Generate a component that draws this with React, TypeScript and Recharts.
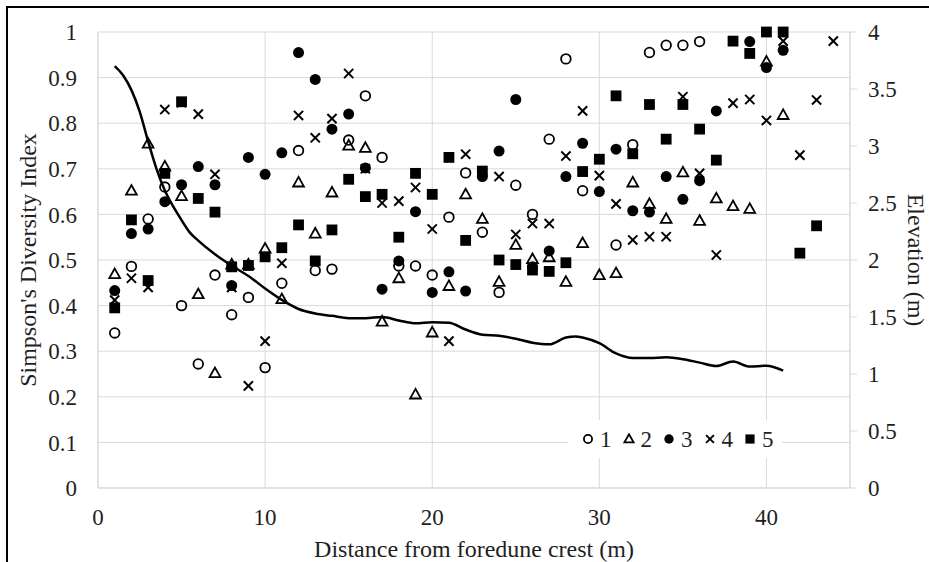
import React from 'react';
import { ComposedChart, Scatter, Line, XAxis, YAxis, CartesianGrid, Legend } from 'recharts';

// Distance from foredune crest (m)
const distances = [1, 2, 3, 4, 5, 6, 7, 8, 9, 10, 11, 12, 13, 14, 15, 16, 17, 18, 19, 20, 21, 22,
  23, 24, 25, 26, 27, 28, 29, 30, 31, 32, 33, 34, 35, 36, 37, 38, 39, 40, 41, 42, 43, 44];

// Simpson's Diversity Index for the five transects (null = no value)
const series1 = [0.34, 0.486, 0.59, 0.66, 0.40, 0.272, 0.467, 0.38, 0.418, 0.264, 0.449, 0.74,
  0.477, 0.48, 0.763, 0.86, 0.725, 0.487, 0.487, 0.467, 0.594, 0.691, 0.561, 0.429, 0.664, 0.60,
  0.765, 0.941, 0.652, null, 0.533, 0.753, 0.955, 0.971, 0.971, 0.979];
const series2 = [0.469, 0.652, 0.755, 0.705, 0.64, 0.425, 0.252, 0.49, 0.49, 0.525, 0.414, 0.67,
  0.558, 0.648, 0.751, 0.746, 0.365, 0.46, 0.205, 0.341, 0.443, 0.644, 0.59, 0.452, 0.533, 0.502,
  0.506, 0.452, 0.537, 0.467, 0.471, 0.67, 0.623, 0.59, 0.692, 0.586, 0.635, 0.618, 0.612, 0.935,
  0.818];
const series3 = [0.433, 0.558, 0.568, 0.628, 0.665, 0.705, 0.665, 0.444, 0.725, 0.688, 0.735,
  0.955, 0.896, 0.787, 0.82, 0.702, 0.436, 0.498, 0.606, 0.429, 0.474, 0.432, 0.683, 0.739, 0.852,
  0.485, 0.52, 0.683, 0.756, 0.65, 0.743, 0.608, 0.605, 0.683, 0.633, 0.674, 0.827, null, 0.979,
  0.922, 0.96];
const series4 = [0.412, 0.46, 0.44, 0.83, 0.845, 0.82, 0.688, 0.44, 0.224, 0.322, 0.493, 0.817,
  0.768, 0.81, 0.909, 0.70, 0.625, 0.629, 0.659, 0.568, 0.322, 0.732, 0.69, 0.683, 0.556, 0.58,
  0.58, 0.728, 0.827, 0.685, 0.623, 0.544, 0.551, 0.551, 0.858, 0.69, 0.511, 0.844, 0.852, 0.806,
  0.98, 0.73, 0.851, 0.98];
const series5 = [0.395, 0.588, 0.455, 0.69, 0.847, 0.635, 0.605, 0.485, 0.488, 0.507, 0.527,
  0.577, 0.498, 0.566, 0.677, 0.639, 0.644, 0.55, 0.69, 0.644, 0.725, 0.543, 0.695, 0.50, 0.49,
  0.478, 0.475, 0.494, 0.694, 0.721, 0.86, 0.733, 0.841, 0.765, 0.841, 0.787, 0.719, 0.98, 0.953,
  1.0, 1.0, 0.515, 0.575];

// Elevation profile (m)
const elevDistance = [1, 1.5, 2, 2.5, 3, 3.5, 4, 4.5, 5, 5.5, 6, 7, 8, 9, 10, 11, 12, 13, 14, 15,
  16, 17, 18, 19, 20, 21, 22, 23, 24, 25, 26, 27, 28, 28.6, 29, 30, 31, 32, 33, 34, 35, 36, 37, 38,
  39, 40, 41];
const elevation = [3.70, 3.62, 3.49, 3.30, 3.04, 2.80, 2.61, 2.47, 2.35, 2.24, 2.17, 2.05, 1.95,
  1.86, 1.75, 1.65, 1.57, 1.53, 1.51, 1.49, 1.49, 1.50, 1.47, 1.445, 1.455, 1.45, 1.39, 1.345,
  1.335, 1.31, 1.275, 1.26, 1.32, 1.33, 1.32, 1.27, 1.18, 1.14, 1.14, 1.146, 1.13, 1.10, 1.07,
  1.11, 1.065, 1.073, 1.03];

const xTicks = [0, 10, 20, 30, 40];
const leftTicks = [0, 0.1, 0.2, 0.3, 0.4, 0.5, 0.6, 0.7, 0.8, 0.9, 1];
const rightTicks = [0, 0.5, 1, 1.5, 2, 2.5, 3, 3.5, 4];
const seriesNames = ['1', '2', '3', '4', '5'];

const toPoints = (vals: (number | null)[]) =>
  vals
    .map((v, i) => ({ x: distances[i], y: v }))
    .filter((p) => p.y !== null);

const elevData = elevDistance.map((d, i) => ({ x: d, elev: elevation[i] }));

const INK = '#000';
const TEXT = '#1f1f1f';
const GRID = '#d9d9d9';
const SERIF = "'Liberation Serif', 'Times New Roman', serif";
const FS = 23;
const TITLE_FS = 24;

const OpenCircle = (p: any, s = 1) => (
  <circle cx={p.cx} cy={p.cy} r={4.8 * s} fill="none" stroke={INK} strokeWidth={1.8} />
);
const OpenTriangle = (p: any, s = 1) => (
  <polygon
    points={`${p.cx},${p.cy - 5.6 * s} ${p.cx - 5.4 * s},${p.cy + 4 * s} ${p.cx + 5.4 * s},${p.cy + 4 * s}`}
    fill="none"
    stroke={INK}
    strokeWidth={1.8}
  />
);
const FilledCircle = (p: any, s = 1) => <circle cx={p.cx} cy={p.cy} r={5.5 * s} fill={INK} />;
const Cross = (p: any, s = 1) => (
  <g stroke={INK} strokeWidth={2}>
    <line x1={p.cx - 4.6 * s} y1={p.cy - 4.6 * s} x2={p.cx + 4.6 * s} y2={p.cy + 4.6 * s} />
    <line x1={p.cx - 4.6 * s} y1={p.cy + 4.6 * s} x2={p.cx + 4.6 * s} y2={p.cy - 4.6 * s} />
  </g>
);
const FilledSquare = (p: any, s = 1) => (
  <rect x={p.cx - 5.4 * s} y={p.cy - 5.4 * s} width={10.8 * s} height={10.8 * s} fill={INK} />
);

const shapeByName: Record<string, (p: any, s?: number) => React.ReactElement> = {
  '1': OpenCircle,
  '2': OpenTriangle,
  '3': FilledCircle,
  '4': Cross,
  '5': FilledSquare,
};

const renderLegend = (props: any) => {
  const payload = (props.payload || []).filter((e: any) => shapeByName[String(e.value)]);
  return (
    <div
      style={{
        background: '#fff',
        display: 'flex',
        alignItems: 'center',
        height: 38,
        paddingLeft: 14,
        boxSizing: 'border-box',
        fontSize: FS,
        color: TEXT,
        fontFamily: SERIF,
      }}
    >
      {payload.map((entry: any) => (
        <span key={entry.value} style={{ display: 'flex', alignItems: 'center', marginRight: 11 }}>
          <svg width={12} height={12} style={{ marginRight: 6 }}>
            {shapeByName[String(entry.value)]({ cx: 6, cy: 6 }, 0.85)}
          </svg>
          <span style={{ lineHeight: '23px', fontFamily: SERIF }}>{entry.value}</span>
        </span>
      ))}
    </div>
  );
};

const tickStyle = { fontSize: FS, fill: TEXT, fontFamily: SERIF };
const labelStyle = { fontSize: TITLE_FS, fill: TEXT, fontFamily: SERIF };

export default function App() {
  const seriesData = [series1, series2, series3, series4, series5];
  return (
    <div
      style={{
        position: 'absolute',
        left: 0,
        top: 0,
        width: 929,
        height: 562,
        background: '#fff',
        overflow: 'hidden',
        fontFamily: SERIF,
      }}
    >
      <div
        style={{
          position: 'absolute',
          left: 6,
          top: 6,
          width: 1000,
          height: 700,
          borderTop: '2px solid #000',
          borderLeft: '2px solid #000',
        }}
      />
      <ComposedChart
        width={929}
        height={562}
        margin={{ top: 32, right: 9, bottom: 0, left: 10 }}
        style={{ fontFamily: SERIF }}
      >
        <CartesianGrid yAxisId="left" stroke={GRID} strokeWidth={1} />
        <XAxis
          type="number"
          dataKey="x"
          domain={[0, 45]}
          ticks={xTicks}
          allowDataOverflow
          height={74}
          axisLine={{ stroke: GRID }}
          tickLine={false}
          tickSize={0}
          tickMargin={21}
          tick={tickStyle}
          label={{
            value: 'Distance from foredune crest (m)',
            position: 'insideBottom',
            offset: 5,
            style: labelStyle,
          }}
        />
        <YAxis
          yAxisId="left"
          type="number"
          domain={[0, 1]}
          ticks={leftTicks}
          width={88}
          axisLine={{ stroke: GRID }}
          tickLine={false}
          tickSize={0}
          tickMargin={21}
          tick={tickStyle}
          label={{
            value: "Simpson's Diversity Index",
            angle: -90,
            position: 'insideLeft',
            offset: 17,
            style: { ...labelStyle, textAnchor: 'middle' },
          }}
        />
        <YAxis
          yAxisId="right"
          orientation="right"
          type="number"
          domain={[0, 4]}
          ticks={rightTicks}
          width={70}
          axisLine={{ stroke: GRID }}
          tickLine={{ stroke: GRID }}
          tickSize={7}
          tickMargin={11}
          tick={{ ...tickStyle, textAnchor: 'start' }}
          label={{
            value: 'Elevation (m)',
            angle: 90,
            position: 'insideRight',
            offset: 3,
            style: { ...labelStyle, textAnchor: 'middle' },
          }}
        />
        <Line
          yAxisId="right"
          data={elevData}
          dataKey="elev"
          type="monotone"
          stroke={INK}
          strokeWidth={2.5}
          dot={false}
          activeDot={false}
          legendType="none"
          isAnimationActive={false}
        />
        {seriesData.map((vals, i) => (
          <Scatter
            key={seriesNames[i]}
            yAxisId="left"
            name={seriesNames[i]}
            data={toPoints(vals)}
            dataKey="y"
            fill={INK}
            shape={(p: any) => shapeByName[seriesNames[i]](p)}
            isAnimationActive={false}
          />
        ))}
        <Legend
          layout="horizontal"
          verticalAlign="middle"
          align="center"
          content={renderLegend}
          wrapperStyle={{ position: 'absolute', left: 568, top: 420, width: 214, height: 38 }}
        />
      </ComposedChart>
    </div>
  );
}
